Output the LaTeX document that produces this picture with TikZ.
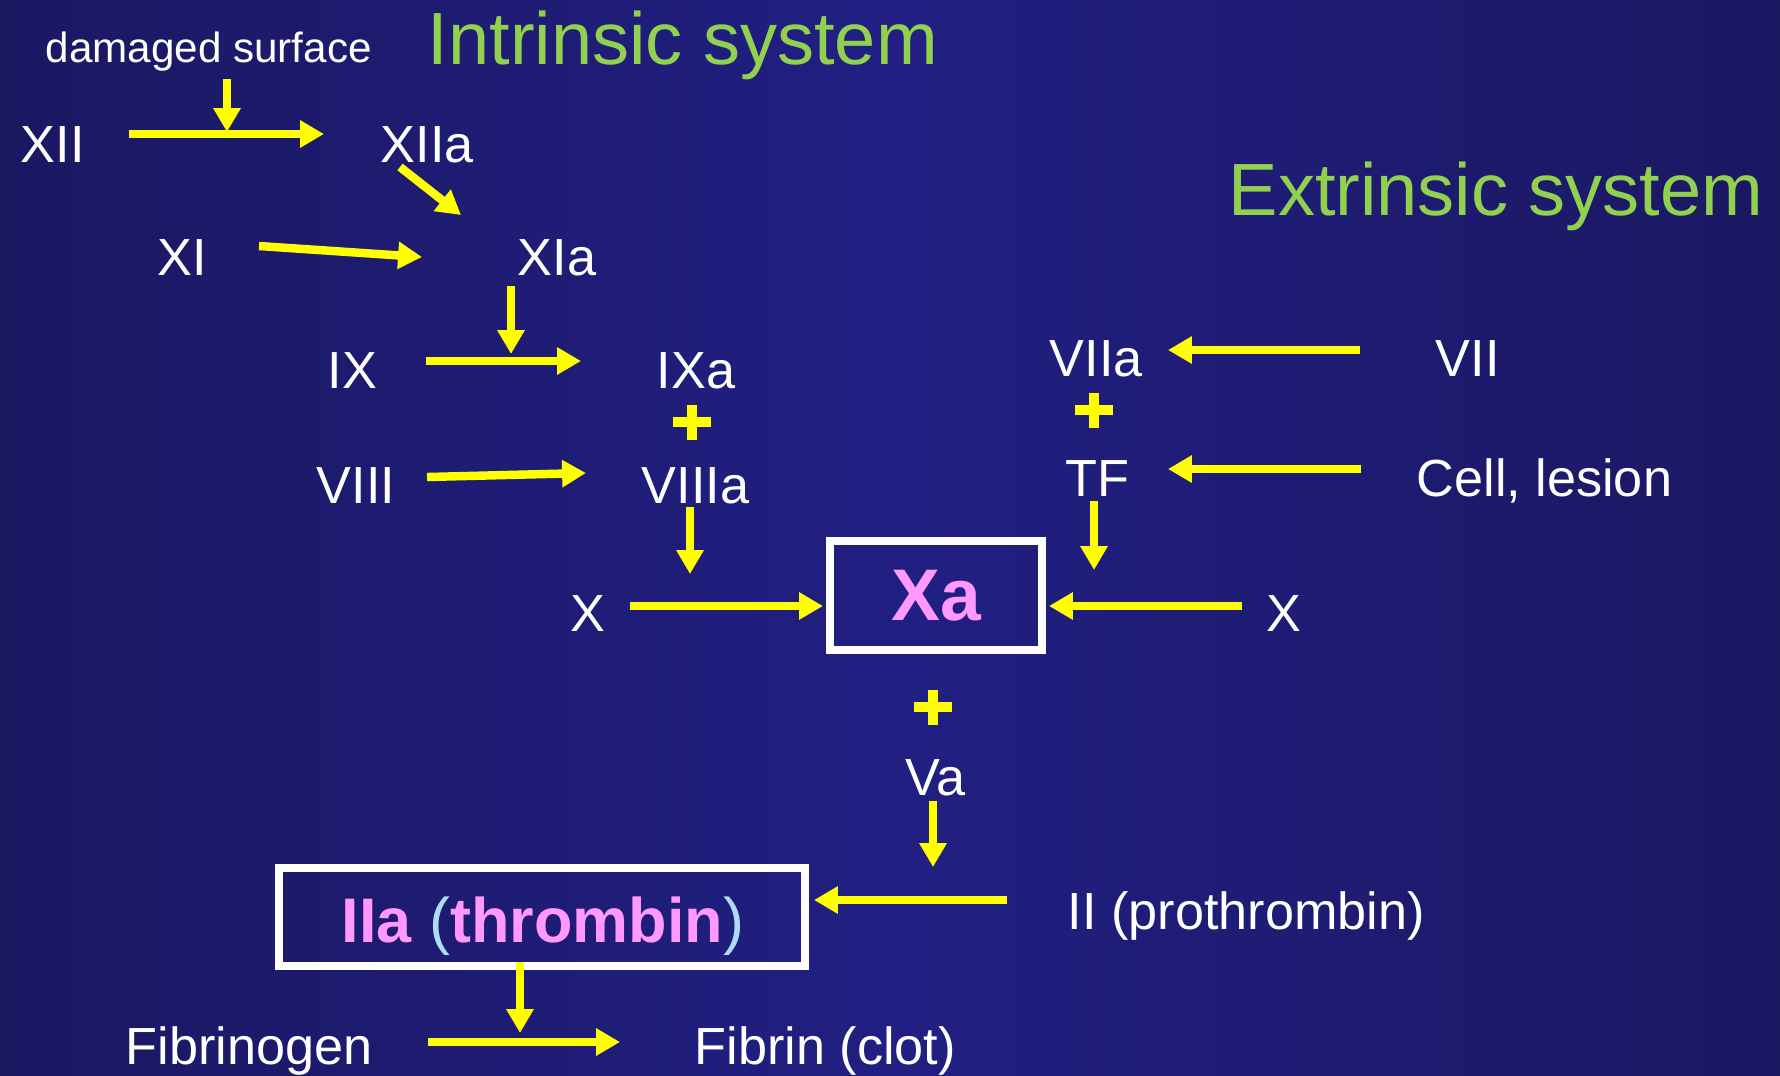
\documentclass[tikz,border=0pt]{standalone}
\usepackage{fontspec}
\setmainfont{Liberation Sans}
\usetikzlibrary{arrows.meta}
\definecolor{bgedge}{HTML}{1B1862}
\definecolor{bgmid}{HTML}{211F82}
\definecolor{arrowyellow}{HTML}{FFFF00}
\definecolor{titlegreen}{HTML}{92D050}
\definecolor{factorpink}{HTML}{FF99FF}
\definecolor{parenblue}{HTML}{AEDCF5}
\begin{document}
\begin{tikzpicture}[x=0.01cm, y=-0.01cm,
  lbl/.style={text=white, font=\fontsize{14.85}{17}\selectfont, anchor=base west, inner sep=0pt},
  smalllbl/.style={text=white, font=\fontsize{12}{14}\selectfont, anchor=base west, inner sep=0pt},
  titlelbl/.style={text=titlegreen, font=\fontsize{21.05}{25}\selectfont, anchor=base west, inner sep=0pt},
  arr/.style={draw=arrowyellow, line width=2.4pt, -{Triangle[length=6.8pt,width=7.4pt]}},
  plusbar/.style={draw=arrowyellow, line width=2.85pt},
  factorbox/.style={draw=white, inner sep=0pt, anchor=center},
]
\useasboundingbox (0,0) rectangle (1780,1075);
\shade[left color=bgedge, right color=bgedge, middle color=bgmid] (0,0) rectangle (1780,1075);

% titles and labels
\node[smalllbl] (ds) at (45,62) {damaged surface};
\node[titlelbl] (intr) at (427,64) {Intrinsic system};
\node[titlelbl] (extr) at (1228,215) {Extrinsic system};
\node[lbl] (XII) at (20,162) {XII};
\node[lbl] (XIIa) at (380,162) {XIIa};
\node[lbl] (XI) at (157,275) {XI};
\node[lbl] (XIa) at (517,275) {XIa};
\node[lbl] (IX) at (327,388) {IX};
\node[lbl] (IXa) at (656,388) {IXa};
\node[lbl] (VIIa) at (1049,376) {VIIa};
\node[lbl] (VII) at (1435,376) {VII};
\node[lbl] (VIII) at (316,503) {VIII};
\node[lbl] (VIIIa) at (641,503) {VIIIa};
\node[lbl] (TF) at (1065,496) {TF};
\node[lbl] (cell) at (1416,496) {Cell, lesion};
\node[lbl] (Xl) at (570,631) {X};
\node[lbl] (Xr) at (1266,631) {X};
\node[lbl] (Va) at (905,795) {Va};
\node[lbl] (II) at (1067,929) {II (prothrombin)};
\node[lbl] (fbg) at (125,1064) {Fibrinogen};
\node[lbl] (fbn) at (694,1064) {Fibrin (clot)};

% boxes
\node[factorbox, line width=2.1pt, minimum width=2.12cm, minimum height=1.09cm,
      text=factorpink, font=\fontsize{20.8}{24}\selectfont\bfseries] (Xa) at (936,595.5) {Xa};
\node[factorbox, line width=2.3pt, minimum width=5.26cm, minimum height=0.98cm] (IIa) at (542,917) {};
\node[anchor=base, inner sep=0pt, font=\fontsize{17.9}{20}\selectfont\bfseries, text=factorpink] (IIatext) at (543,942)
  {IIa {\mdseries\color{parenblue}(}thrombin{\mdseries\color{parenblue})}};

% plus signs
\draw[plusbar] (673,422) -- (711,422) (692,404.5) -- (692,439.5);
\draw[plusbar] (1075,410) -- (1113,410) (1094,392.5) -- (1094,427.5);
\draw[plusbar] (914,707) -- (952,707) (933,689.5) -- (933,724.5);

% connector end points
\coordinate (dsA) at (227,79);   \coordinate (dsB) at (227,132);
\coordinate (xiiA) at (129,134); \coordinate (xiiB) at (324,134);
\coordinate (xiiaA) at (400,167); \coordinate (xiiaB) at (461,215);
\coordinate (xiA) at (259,246);  \coordinate (xiB) at (422,257);
\coordinate (xiaA) at (511,286); \coordinate (xiaB) at (511,354);
\coordinate (ixA) at (426,361);  \coordinate (ixB) at (581,361);
\coordinate (viiiA) at (427,477); \coordinate (viiiB) at (586,473);
\coordinate (viiiaA) at (690,507); \coordinate (viiiaB) at (690,574);
\coordinate (xlA) at (630,606);  \coordinate (xlB) at (823,606);
\coordinate (viiA) at (1360,350); \coordinate (viiB) at (1168,350);
\coordinate (cellA) at (1361,469); \coordinate (cellB) at (1168,469);
\coordinate (tfA) at (1094,501); \coordinate (tfB) at (1094,570);
\coordinate (xrA) at (1242,606); \coordinate (xrB) at (1049,606);
\coordinate (vaA) at (933,801);  \coordinate (vaB) at (933,867);
\coordinate (iiA) at (1007,900); \coordinate (iiB) at (814,900);
\coordinate (iiaA) at (520,962); \coordinate (iiaB) at (520,1033);
\coordinate (fibA) at (428,1042); \coordinate (fibB) at (620,1042);

% connectors
\draw[arr] (dsA) -- (dsB);
\draw[arr] (xiiA) -- (xiiB);
\draw[arr] (xiiaA) -- (xiiaB);
\draw[arr] (xiA) -- (xiB);
\draw[arr] (xiaA) -- (xiaB);
\draw[arr] (ixA) -- (ixB);
\draw[arr] (viiiA) -- (viiiB);
\draw[arr] (viiiaA) -- (viiiaB);
\draw[arr] (xlA) -- (xlB);
\draw[arr] (viiA) -- (viiB);
\draw[arr] (cellA) -- (cellB);
\draw[arr] (tfA) -- (tfB);
\draw[arr] (xrA) -- (xrB);
\draw[arr] (vaA) -- (vaB);
\draw[arr] (iiA) -- (iiB);
\draw[arr] (iiaA) -- (iiaB);
\draw[arr] (fibA) -- (fibB);
\end{tikzpicture}
\end{document}
